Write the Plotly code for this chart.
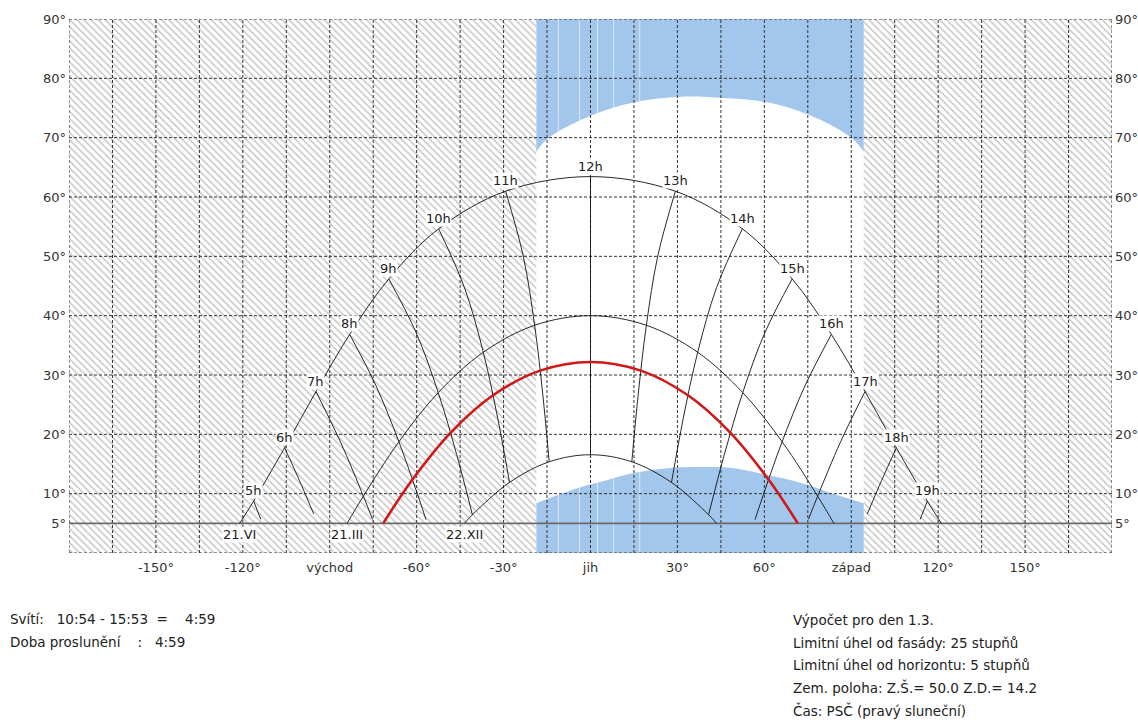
import plotly.graph_objects as go

# ---- sun paths (azimuth from south in deg, altitude in deg) ----
june_az = [-121.1, -116.27, -105.57, -94.76, -83.13, -69.61, -52.42, -29.30, 0,
           29.30, 52.42, 69.61, 83.13, 94.76, 105.57, 116.27, 121.1]
june_alt = [5, 8.75, 17.74, 27.21, 36.84, 46.20, 54.64, 60.98, 63.44,
            60.98, 54.64, 46.20, 36.84, 27.21, 17.74, 8.75, 5]

march_az = [-84.0, -78.40, -66.14, -52.55, -37.0, -19.28, 0,
            19.28, 37.0, 52.55, 66.14, 78.40, 84.0]
march_alt = [5, 9.58, 18.75, 27.03, 33.83, 38.38, 40.0,
             38.38, 33.83, 27.03, 18.75, 9.58, 5]

dec_az = [-43.5, -40.76, -27.96, -14.26, 0, 14.26, 27.96, 40.76, 43.5]
dec_alt = [5, 6.45, 11.89, 15.37, 16.56, 15.37, 11.89, 6.45, 5]

day_az = [-71.56, -61.45, -48.31, -33.64, -17.36, 0, 17.36, 33.64, 48.31, 61.45, 71.56]
day_alt = [5, 12.38, 20.26, 26.58, 30.74, 32.2, 30.74, 26.58, 20.26, 12.38, 5]

date_labels = ["21.VI", "21.III", "22.XII"]

# ---- hour lines (from 21.VI towards 22.XII) ----
hour_labels = ["5h", "6h", "7h", "8h", "9h", "10h", "11h", "12h",
               "13h", "14h", "15h", "16h", "17h", "18h", "19h"]
hour_az = [
    [-116.27, -113.79],
    [-105.57, -100.44, -97.78, -95.55],
    [-94.76, -86.36, -78.40, -75.24],
    [-83.13, -74.12, -66.14, -59.03, -56.78],
    [-69.61, -60.20, -52.55, -46.19, -40.76],
    [-52.42, -43.51, -37.0, -32.0, -27.96],
    [-29.30, -23.22, -19.28, -16.45, -14.26],
    [0, 0],
    [29.30, 23.22, 19.28, 16.45, 14.26],
    [52.42, 43.51, 37.0, 32.0, 27.96],
    [69.61, 60.20, 52.55, 46.19, 40.76],
    [83.13, 74.12, 66.14, 59.03, 56.78],
    [94.76, 86.36, 78.40, 75.24],
    [105.57, 100.44, 97.78, 95.55],
    [116.27, 113.79],
]
hour_alt = [
    [8.75, 5.67],
    [17.74, 12.19, 9.16, 6.6],
    [27.21, 18.78, 9.58, 5.68],
    [36.84, 28.27, 18.75, 8.92, 5.62],
    [46.20, 37.15, 27.03, 16.58, 6.45],
    [54.64, 44.73, 33.83, 22.66, 11.89],
    [60.98, 50.05, 38.38, 26.62, 15.37],
    [63.44, 16.56],
    [60.98, 50.05, 38.38, 26.62, 15.37],
    [54.64, 44.73, 33.83, 22.66, 11.89],
    [46.20, 37.15, 27.03, 16.58, 6.45],
    [36.84, 28.27, 18.75, 8.92, 5.62],
    [27.21, 18.78, 9.58, 5.68],
    [17.74, 12.19, 9.16, 6.6],
    [8.75, 5.67],
]

# ---- facade sector and window obstruction ----
band_left, band_right = -18.7, 94.3
upper_az = [-18.7, -14.6, 0.7, 15.6, 31.2, 45.8, 60.7, 75.6, 90.2, 94.3]
upper_alt = [67.6, 69.9, 73.8, 76.0, 76.9, 76.7, 76.0, 73.8, 69.9, 67.6]
lower_az = [-18.7, -11.1, -3.5, 3.5, 14.9, 26.7, 38.2, 49.6, 61.4, 72.8, 84.3, 94.3]
lower_alt = [8.4, 9.8, 11.1, 12.0, 13.5, 14.3, 14.5, 14.3, 13.1, 11.8, 9.9, 8.4]
streak_az = [-11.1, -3.8, 2.4, 8.0, 17.0]

horizon_limit = 5

# ---- axes ----
x_tick_vals = [-150, -120, -90, -60, -30, 0, 30, 60, 90, 120, 150]
x_tick_text = ["-150°", "-120°", "východ", "-60°", "-30°", "jih",
               "30°", "60°", "západ", "120°", "150°"]
y_tick_vals = [5, 10, 20, 30, 40, 50, 60, 70, 80, 90]
y_tick_text = ["5°", "10°", "20°", "30°", "40°", "50°", "60°", "70°", "80°", "90°"]
x_grid = list(range(-180, 181, 15))
y_grid = [0, 10, 20, 30, 40, 50, 60, 70, 80, 90]

left_notes = ["Svítí:\u00a0\u00a0 10:54 - 15:53\u00a0 =\u00a0\u00a0\u00a0 4:59",
              "Doba proslunění\u00a0\u00a0\u00a0\u00a0:\u00a0\u00a0 4:59"]
right_notes = ["Výpočet pro den 1.3.",
               "Limitní úhel od fasády: 25 stupňů",
               "Limitní úhel od horizontu: 5 stupňů",
               "Zem. poloha: Z.Š.= 50.0 Z.D.= 14.2",
               "Čas: PSČ (pravý sluneční)"]

FONT = "DejaVu Sans"
FS = 13
NOTE_FS = 13.5
W, H = 1138, 722
ML, MR, MT, MB = 69, 26, 19, 169
XR, YR = (-180, 180), (0, 90)

fig = go.Figure()

# hatched background (shaded, outside facade sector)
fig.add_trace(go.Scatter(
    x=[XR[0], XR[1], XR[1], XR[0], XR[0]], y=[YR[0], YR[0], YR[1], YR[1], YR[0]],
    mode="lines", line=dict(width=0), fill="toself", fillcolor="white",
    fillpattern=dict(shape="\\", fgcolor="#808080", bgcolor="white", size=5, solidity=0.27),
    hoverinfo="skip", showlegend=False))

# facade sector
fig.add_trace(go.Scatter(
    x=[band_left, band_right, band_right, band_left, band_left],
    y=[YR[0], YR[0], YR[1], YR[1], YR[0]],
    mode="lines", line=dict(width=0), fill="toself", fillcolor="white",
    hoverinfo="skip", showlegend=False))

BLUE = "#a3c7ec"
# upper obstruction
fig.add_trace(go.Scatter(x=[band_left, band_right], y=[YR[1], YR[1]], mode="lines",
                         line=dict(width=0), hoverinfo="skip", showlegend=False))
fig.add_trace(go.Scatter(x=upper_az, y=upper_alt, mode="lines",
                         line=dict(width=0, shape="spline"), fill="tonexty",
                         fillcolor=BLUE, hoverinfo="skip", showlegend=False))
# lower obstruction
fig.add_trace(go.Scatter(x=lower_az, y=lower_alt, mode="lines",
                         line=dict(width=0, shape="spline"), fill="tozeroy",
                         fillcolor=BLUE, hoverinfo="skip", showlegend=False))

# light seams in the obstruction fill
sx, sy = [], []
for a in streak_az:
    sx += [a, a, None]
    sy += [YR[0], YR[1], None]
fig.add_trace(go.Scatter(x=sx, y=sy, mode="lines",
                         line=dict(color="rgba(255,255,255,0.6)", width=1),
                         hoverinfo="skip", showlegend=False))

# dashed grid and frame
gx, gy = [], []
for v in x_grid:
    gx += [v, v, None]
    gy += [YR[0], YR[1], None]
for v in y_grid:
    gx += [XR[0], XR[1], None]
    gy += [v, v, None]
fig.add_trace(go.Scatter(x=gx, y=gy, mode="lines",
                         line=dict(color="#333333", width=1, dash="3px,2px"),
                         hoverinfo="skip", showlegend=False))

# horizon limit line
fig.add_trace(go.Scatter(x=list(XR), y=[horizon_limit, horizon_limit], mode="lines",
                         line=dict(color="#6a6a6a", width=1.7),
                         hoverinfo="skip", showlegend=False))

# hour lines
for az, alt in zip(hour_az, hour_alt):
    fig.add_trace(go.Scatter(x=az, y=alt, mode="lines",
                             line=dict(color="#111", width=0.9, shape="spline"),
                             hoverinfo="skip", showlegend=False))

# date curves
for az, alt in [(june_az, june_alt), (march_az, march_alt), (dec_az, dec_alt)]:
    fig.add_trace(go.Scatter(x=az, y=alt, mode="lines",
                             line=dict(color="#111", width=0.9, shape="spline"),
                             hoverinfo="skip", showlegend=False))

# selected day
fig.add_trace(go.Scatter(x=day_az, y=day_alt, mode="lines",
                         line=dict(color="#d01818", width=2.6, shape="spline"),
                         hoverinfo="skip", showlegend=False))

# right-side altitude axis
fig.add_trace(go.Scatter(x=[0], y=[0], yaxis="y2", mode="markers",
                         marker=dict(opacity=0), hoverinfo="skip", showlegend=False))

ann = []
for lbl, az, alt in zip(hour_labels, hour_az, hour_alt):
    ann.append(dict(x=az[0], y=alt[0], text=lbl, showarrow=False, xanchor="center",
                    yanchor="bottom", yshift=2, bgcolor="white", borderpad=0,
                    font=dict(family=FONT, size=FS, color="#222")))
for lbl, az, alt in zip(date_labels, [june_az, march_az, dec_az], [june_alt, march_alt, dec_alt]):
    ann.append(dict(x=az[0], y=alt[0], text=lbl, showarrow=False, xanchor="center",
                    yanchor="top", yshift=-3, bgcolor="white", borderpad=0,
                    font=dict(family=FONT, size=FS, color="#222")))

pw, ph = W - ML - MR, H - MT - MB
def px(x):
    return (x - ML) / pw
def py(y):
    return (H - MB - y) / ph

for i, t in enumerate(left_notes):
    ann.append(dict(x=px(8), y=py(619 + 23 * i), xref="paper", yref="paper", text=t,
                    showarrow=False, xanchor="left", yanchor="middle",
                    font=dict(family=FONT, size=NOTE_FS, color="#222")))
for i, t in enumerate(right_notes):
    ann.append(dict(x=px(791), y=py(620 + 22.6 * i), xref="paper", yref="paper", text=t,
                    showarrow=False, xanchor="left", yanchor="middle",
                    font=dict(family=FONT, size=NOTE_FS, color="#222")))

axis_font = dict(family=FONT, size=FS, color="#333")
fig.update_layout(
    width=W, height=H, margin=dict(l=ML, r=MR, t=MT, b=MB, autoexpand=False),
    paper_bgcolor="white", plot_bgcolor="white",
    xaxis=dict(range=list(XR), showgrid=False, zeroline=False, showline=False,
               tickmode="array", tickvals=x_tick_vals, ticktext=x_tick_text,
               tickfont=axis_font, ticks="", ticklabelstandoff=5, fixedrange=True,
               automargin=False),
    yaxis=dict(range=list(YR), showgrid=False, zeroline=False, showline=False,
               tickmode="array", tickvals=y_tick_vals, ticktext=y_tick_text,
               tickfont=axis_font, ticks="", ticklabelstandoff=2, fixedrange=True,
               automargin=False),
    yaxis2=dict(range=list(YR), overlaying="y", side="right", showgrid=False,
                zeroline=False, showline=False, tickmode="array",
                tickvals=y_tick_vals, ticktext=y_tick_text, tickfont=axis_font,
                ticks="", ticklabelstandoff=2, fixedrange=True, automargin=False),
    annotations=ann, showlegend=False,
)

fig.write_html("out.html")
